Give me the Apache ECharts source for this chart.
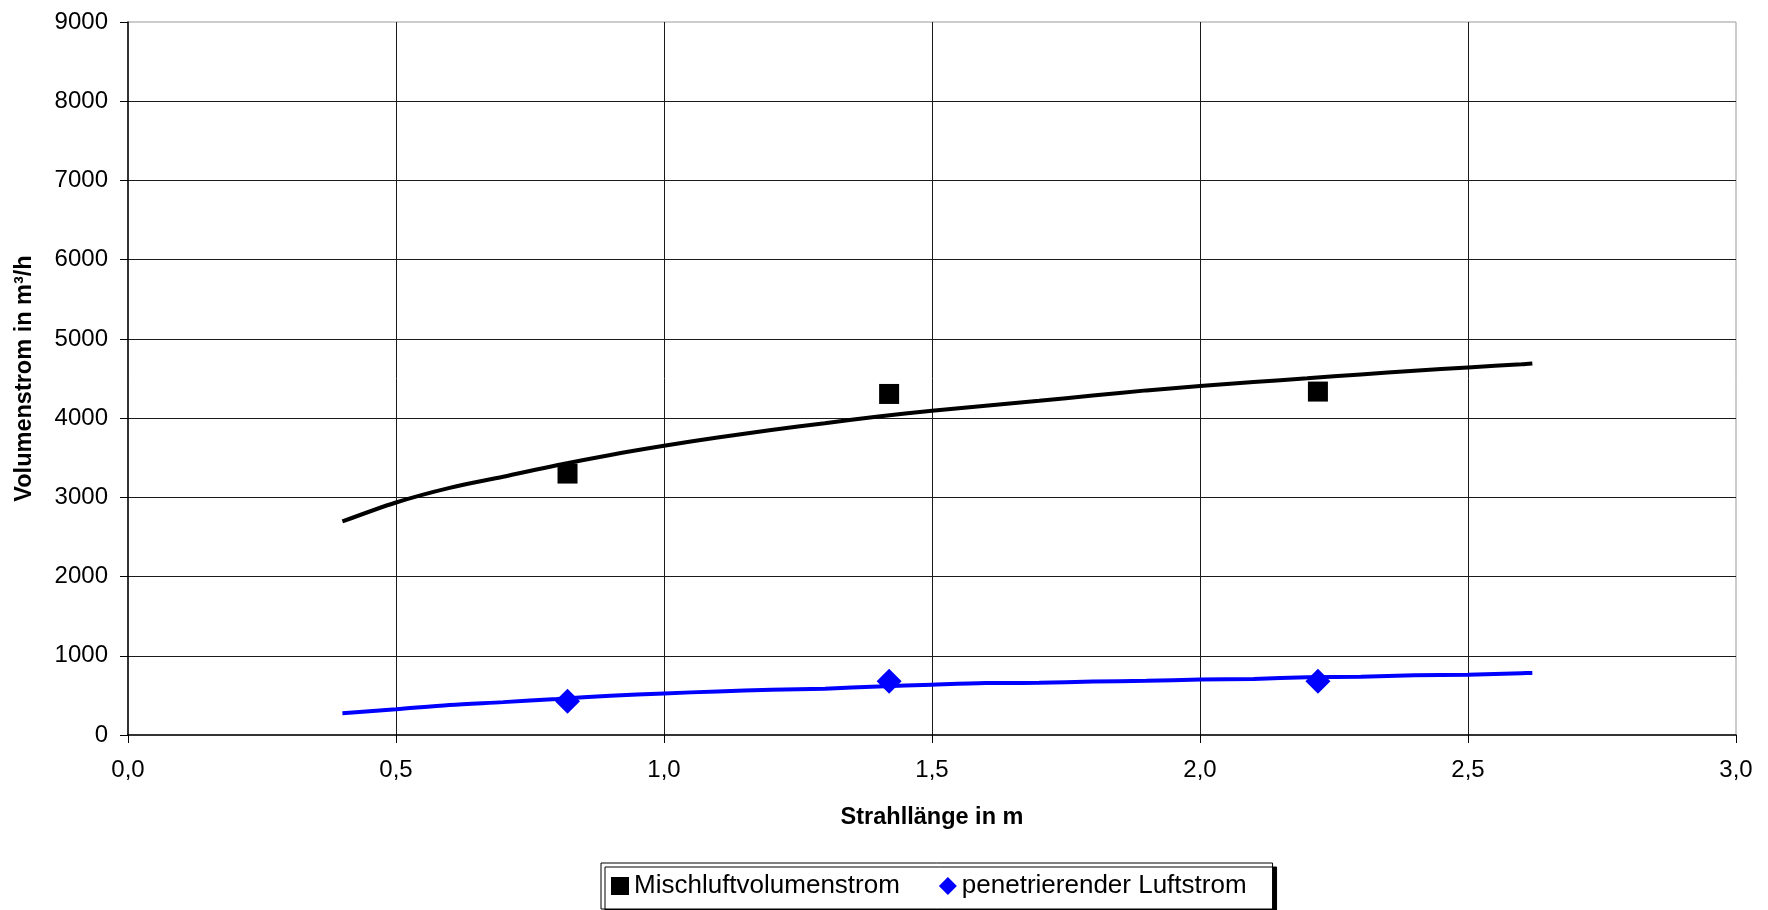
<!DOCTYPE html>
<html>
<head>
<meta charset="utf-8">
<script src="https://cdn.jsdelivr.net/npm/echarts@6/dist/echarts.min.js"></script>
<style>
html,body{margin:0;padding:0;background:#fff;}
#chart{width:1768px;height:910px;}
</style>
</head>
<body>
<div id="chart"></div>
<script>
// Curve x positions (Strahllänge in m)
const xCurve = [0.4, 0.5, 0.6, 0.7, 0.8, 0.9, 1.0, 1.1, 1.2, 1.3, 1.4, 1.5, 1.6, 1.7, 1.8, 1.9, 2.0, 2.1, 2.2, 2.3, 2.4, 2.5, 2.6, 2.62];
// Mischluftvolumenstrom curve (m³/h)
const mischCurve = [2695, 2935, 3120, 3260, 3405, 3535, 3650, 3755, 3850, 3935, 4020, 4093, 4156, 4219, 4285, 4350, 4405, 4455, 4502, 4552, 4598, 4640, 4680, 4690];
// penetrierender Luftstrom curve (m³/h)
const penCurve = [275, 325, 380, 415, 455, 495, 525, 550, 570, 585, 612, 635, 655, 660, 675, 685, 700, 708, 728, 735, 755, 762, 780, 782];
// Measured points
const xMeas = [0.82, 1.42, 2.22];
const mischMeas = [3300, 4305, 4335];
const penMeas = [425, 678, 678];
// Axis ticks
const xTicks = [0, 0.5, 1.0, 1.5, 2.0, 2.5, 3.0];
const yTicks = [0, 1000, 2000, 3000, 4000, 5000, 6000, 7000, 8000, 9000];

const FONT = 'Liberation Sans, Arial, sans-serif';
const pairs = (xs, ys) => xs.map((x, i) => [x, ys[i]]);

const chart = echarts.init(document.getElementById('chart'));
chart.setOption({
  backgroundColor: '#ffffff',
  animation: false,
  textStyle: { fontFamily: FONT, color: '#000' },
  grid: {
    left: 128, right: 32, top: 22, bottom: 175,
    show: true, borderColor: '#999', borderWidth: 1
  },
  legend: {
    data: [
      { name: 'Mischluftvolumenstrom', icon: 'rect' },
      { name: 'penetrierender Luftstrom', icon: 'diamond' }
    ],
    left: 601, top: 863,
    orient: 'horizontal',
    itemWidth: 18, itemHeight: 18, itemGap: 39,
    padding: [10, 26, 10, 10],
    borderColor: '#000', borderWidth: 1,
    backgroundColor: '#fff',
    shadowColor: '#000', shadowBlur: 0, shadowOffsetX: 4, shadowOffsetY: 4,
    textStyle: { fontFamily: FONT, fontSize: 26, color: '#000' }
  },
  xAxis: {
    type: 'value',
    min: xTicks[0], max: xTicks[xTicks.length - 1], interval: 0.5,
    name: 'Strahllänge in m',
    nameLocation: 'middle', nameGap: 71,
    nameTextStyle: { fontFamily: FONT, fontSize: 23.5, fontWeight: 'bold', color: '#000' },
    axisLine: { show: true, onZero: false, lineStyle: { color: '#000', width: 1.5 } },
    axisTick: { show: true, inside: false, length: 8, lineStyle: { color: '#000' } },
    axisLabel: { fontFamily: FONT, fontSize: 24, color: '#000', margin: 23,
      formatter: v => v.toFixed(1).replace('.', ',') },
    splitLine: { show: true, showMinLine: false, showMaxLine: false, lineStyle: { color: '#1a1a1a', width: 1 } }
  },
  yAxis: {
    type: 'value',
    min: yTicks[0], max: yTicks[yTicks.length - 1], interval: 1000,
    name: 'Volumenstrom in m³/h',
    nameLocation: 'middle', nameGap: 91,
    nameTextStyle: { fontFamily: FONT, fontSize: 23.5, fontWeight: 'bold', color: '#000' },
    axisLine: { show: true, onZero: false, lineStyle: { color: '#000', width: 1.5 } },
    axisTick: { show: true, inside: false, length: 8, lineStyle: { color: '#000' } },
    axisLabel: { fontFamily: FONT, fontSize: 24, color: '#000', margin: 20,
      formatter: v => String(v) },
    splitLine: { show: true, showMinLine: false, showMaxLine: false, lineStyle: { color: '#1a1a1a', width: 1 } }
  },
  series: [
    {
      name: 'Mischluftvolumenstrom-Kurve', type: 'line', data: pairs(xCurve, mischCurve),
      showSymbol: false, smooth: 0.3, z: 2,
      lineStyle: { color: '#000', width: 4 }, itemStyle: { color: '#000' }
    },
    {
      name: 'penetrierender Luftstrom-Kurve', type: 'line', data: pairs(xCurve, penCurve),
      showSymbol: false, smooth: 0.3, z: 2,
      lineStyle: { color: '#0000ff', width: 4 }, itemStyle: { color: '#0000ff' }
    },
    {
      name: 'Mischluftvolumenstrom', type: 'scatter', data: pairs(xMeas, mischMeas),
      symbol: 'rect', symbolSize: 20, z: 5,
      itemStyle: { color: '#000', opacity: 1 }
    },
    {
      name: 'penetrierender Luftstrom', type: 'scatter', data: pairs(xMeas, penMeas),
      symbol: 'diamond', symbolSize: 25, z: 5,
      itemStyle: { color: '#0000ff', opacity: 1 }
    }
  ]
});
</script>
</body>
</html>
